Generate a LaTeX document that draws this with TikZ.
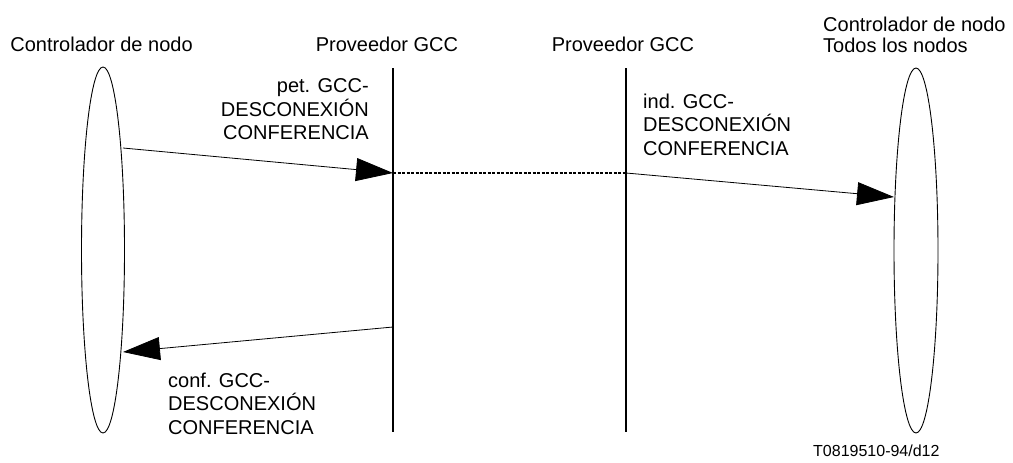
\documentclass[tikz,border=0pt]{standalone}
\usepackage{fontspec}
\setmainfont{Liberation Sans}
\usetikzlibrary{arrows.meta,shapes.geometric}
\begin{document}
\begin{tikzpicture}[x=1pt,y=-1pt,
  lbl/.style={inner sep=0pt,font=\fontsize{20}{23.5}\selectfont},
  actor/.style={draw,ellipse,inner sep=0pt,line width=0.9pt},
  lifeline/.style={line width=1.5pt},
  msg/.style={line width=0.8pt,-{Triangle[length=37pt,width=23pt]}},
  relay/.style={line width=1.5pt,dash pattern=on 3pt off 1.5pt}]
\useasboundingbox (0,0) rectangle (1013,463);
% actors
\node[actor,minimum width=43pt,minimum height=366pt] (L) at (103,250) {};
\node[actor,minimum width=44pt,minimum height=365pt] (R) at (916,250.5) {};
% lifelines
\coordinate (p1t) at (393,68);
\coordinate (p1b) at (393,432);
\coordinate (p2t) at (626,68);
\coordinate (p2b) at (626,432);
\draw[lifeline] (p1t) -- (p1b);
\draw[lifeline] (p2t) -- (p2b);
% message points
\coordinate (a1) at (123,148);
\coordinate (a2) at (393,173);
\coordinate (b1) at (626,173);
\coordinate (b2) at (894,197);
\coordinate (c1) at (393,327);
\coordinate (c2) at (123,352);
\draw[msg] (a1) -- (a2);
\draw[relay] (a2) -- (b1);
\draw[msg] (b1) -- (b2);
\draw[msg] (c1) -- (c2);
% labels
\node[lbl,anchor=base] (t1) at (101.5,51) {Controlador de nodo};
\node[lbl,anchor=base] (t2) at (387,51) {Proveedor GCC};
\node[lbl,anchor=base] (t3) at (623,51) {Proveedor GCC};
\node[lbl,anchor=north west,align=left,font=\fontsize{20}{21}\selectfont] (t4) at (823,16.7) {Controlador de nodo\\Todos los nodos};
\node[lbl,anchor=north east,align=right] (m1) at (369,78.7) {pet. GCC-\\DESCONEXIÓN\\CONFERENCIA};
\node[lbl,anchor=north west,align=left] (m2) at (643,93.7) {ind. GCC-\\DESCONEXIÓN\\CONFERENCIA};
\node[lbl,anchor=north west,align=left] (m3) at (168,372.7) {conf. GCC-\\DESCONEXIÓN\\CONFERENCIA};
\node[inner sep=0pt,anchor=base west,font=\fontsize{16}{18}\selectfont] (id) at (813,456) {T0819510-94/d12};
\end{tikzpicture}
\end{document}
